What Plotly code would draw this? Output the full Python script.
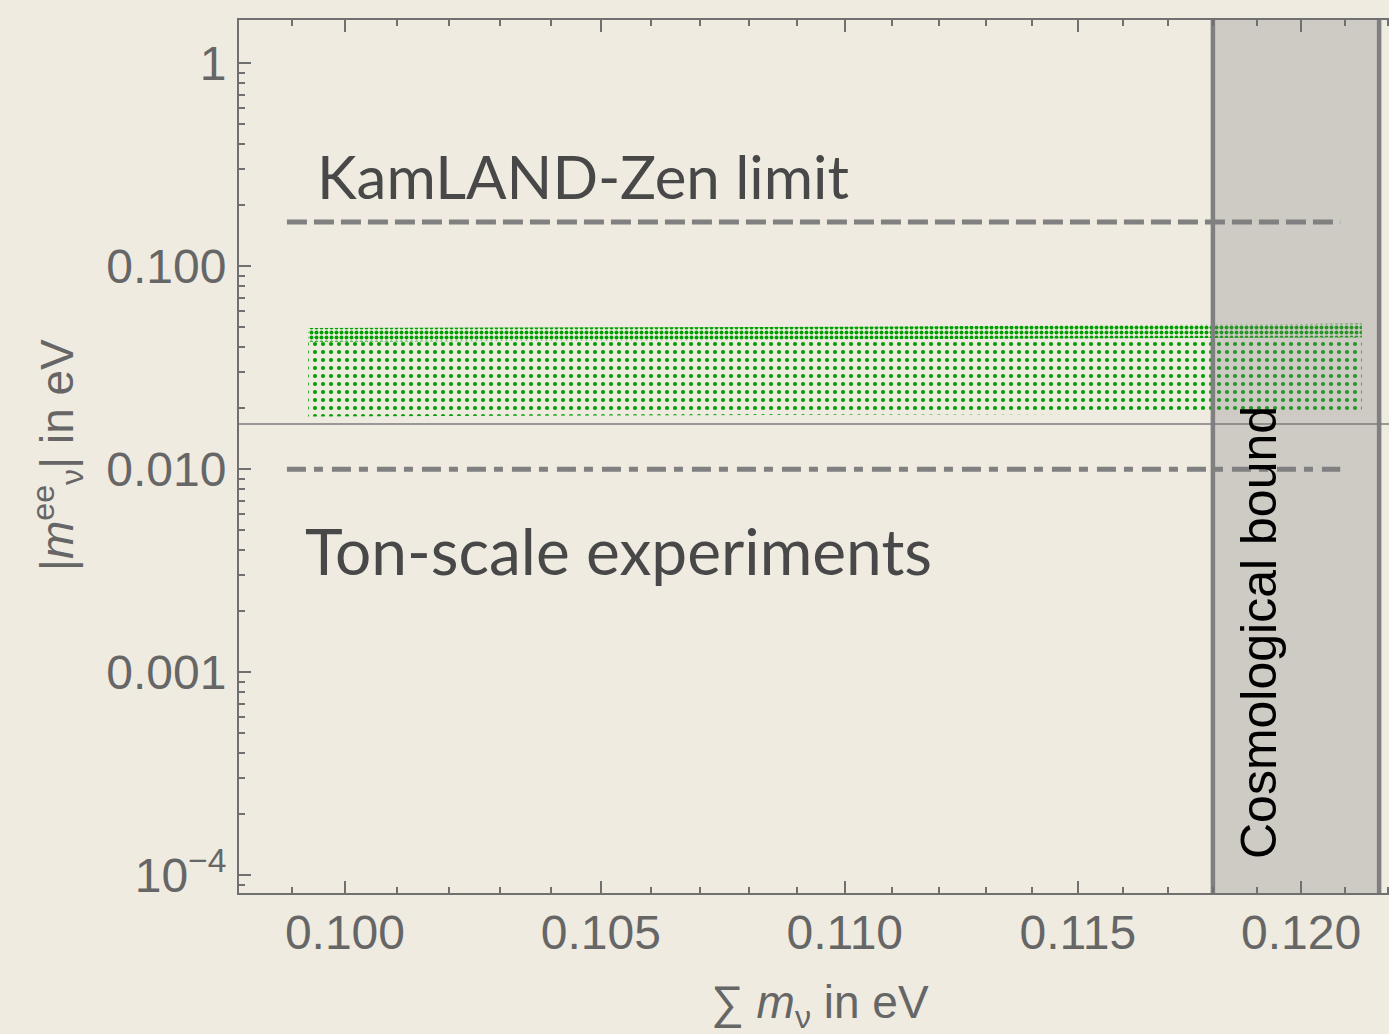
import math
import plotly.graph_objects as go

# ---- data -------------------------------------------------------------
# Sum of neutrino masses (eV) along the scanned region, with the
# upper / lower envelope of |m_ee| (eV) of the allowed points.
sum_m = [0.0993, 0.105, 0.110, 0.115, 0.1214]
mee_upper = [0.0496, 0.0500, 0.0504, 0.0512, 0.0522]
mee_dense = [0.0425, 0.0430, 0.0433, 0.0440, 0.0447]   # lower edge of the dense top layer
mee_lower = [0.0182, 0.0183, 0.0185, 0.0187, 0.0189]

# Experimental sensitivities / limits on |m_ee| (eV)
kamland_limit = 0.165
ton_scale = 0.010
limit_span = [0.0989, 0.1209]        # horizontal extent of the limit lines

# Lower edge of |m_ee| for normal ordering reference
mee_floor = 0.0167

# Cosmological bound band on the sum of masses (eV)
cosmo_band = [0.118, 0.1218]

# Axis ticks
x_ticks = [0.100, 0.105, 0.110, 0.115, 0.120]
x_ticktext = ["0.100", "0.105", "0.110", "0.115", "0.120"]
y_ticks = [1e-4, 1e-3, 1e-2, 1e-1, 1.0]
y_ticktext = ["10<sup>\u22124</sup>", "0.001", "0.010", "0.100", "1"]

x_range = [0.0980, 0.12203]
y_range = [10 ** -4.087, 10 ** 0.213]

# ---- styling ----------------------------------------------------------
BG = "rgb(239,235,225)"
GRAY = "rgb(128,128,128)"
FRAME = "rgb(112,112,112)"
TICKFONT = dict(family="Liberation Sans, Arial, sans-serif", size=48, color="rgb(102,102,102)")
GREEN = "rgb(0,160,0)"

fig = go.Figure()


def band(x, top, bottom, size, solidity):
    xs = list(x) + list(reversed(x))
    ys = list(top) + list(reversed(bottom))
    fig.add_trace(go.Scatter(
        x=xs, y=ys, mode="lines", fill="toself",
        line=dict(width=0, color="rgba(0,0,0,0)"),
        fillcolor="rgba(0,0,0,0)",
        fillpattern=dict(shape=".", fgcolor=GREEN, fgopacity=1,
                         size=size, solidity=solidity),
        hoverinfo="skip", showlegend=False,
    ))


# allowed points: dense top layer and sparser body
band(sum_m, mee_upper, mee_dense, 5, 0.5)
band(sum_m, mee_dense, mee_lower, 8, 0.22)

# KamLAND-Zen limit (dashed) and ton-scale sensitivity (dot-dashed)
fig.add_trace(go.Scatter(
    x=limit_span, y=[kamland_limit] * 2, mode="lines",
    line=dict(color=GRAY, width=5, dash="20px,7px"),
    hoverinfo="skip", showlegend=False))
fig.add_trace(go.Scatter(
    x=limit_span, y=[ton_scale] * 2, mode="lines",
    line=dict(color=GRAY, width=5, dash="19px,8px,9px,9px"),
    hoverinfo="skip", showlegend=False))

# cosmological bound band
fig.add_trace(go.Scatter(
    x=[cosmo_band[0], cosmo_band[1], cosmo_band[1], cosmo_band[0], cosmo_band[0]],
    y=[1e-6, 1e-6, 10, 10, 1e-6], mode="lines", fill="toself",
    fillcolor="rgba(128,128,128,0.3)", line=dict(width=0),
    hoverinfo="skip", showlegend=False))
for xb in cosmo_band:
    fig.add_trace(go.Scatter(
        x=[xb, xb], y=[1e-6, 10], mode="lines",
        line=dict(color=GRAY, width=4.5),
        hoverinfo="skip", showlegend=False))

# thin horizontal reference line
fig.add_trace(go.Scatter(
    x=[0.09, 0.13], y=[mee_floor] * 2, mode="lines",
    line=dict(color="rgb(125,125,125)", width=1.5),
    hoverinfo="skip", showlegend=False))


def minor_decades():
    vals = []
    for e in range(-5, 1):
        for k in range(2, 10):
            vals.append(k * 10 ** e)
    return vals


x_minor = [round(0.098 + 0.001 * i, 3) for i in range(0, 25)]

fig.update_xaxes(
    type="log", range=[math.log10(v) for v in x_range],
    tickmode="array", tickvals=x_ticks, ticktext=x_ticktext,
    ticks="inside", ticklen=12, tickwidth=1.5, tickcolor=FRAME,
    minor=dict(tickmode="array", tickvals=x_minor, ticks="inside",
               ticklen=6, tickwidth=1.5, tickcolor=FRAME, showgrid=False),
    showline=True, linecolor=FRAME, linewidth=2, mirror="ticks",
    showgrid=False, zeroline=False, tickfont=TICKFONT, ticklabelstandoff=-4,
)
fig.update_yaxes(
    type="log", range=[math.log10(v) for v in y_range],
    tickmode="array", tickvals=y_ticks, ticktext=y_ticktext,
    ticks="inside", ticklen=12, tickwidth=1.5, tickcolor=FRAME,
    minor=dict(tickmode="array", tickvals=minor_decades(), ticks="inside",
               ticklen=6, tickwidth=1.5, tickcolor=FRAME, showgrid=False),
    showline=True, linecolor=FRAME, linewidth=2, mirror=False,
    showgrid=False, zeroline=False, tickfont=TICKFONT, ticklabelstandoff=1,
)

TEXTFONT = dict(family="Lato, Open Sans, sans-serif", color="rgb(72,72,72)")
annotations = [
    dict(text="KamLAND-Zen limit", xref="paper", yref="paper",
         x=(315 - 239) / 1150, y=(893 - 176) / 873, xanchor="left", yanchor="middle",
         showarrow=False, font=dict(size=60, **TEXTFONT)),
    dict(text="Ton-scale experiments", xref="paper", yref="paper",
         x=(303 - 239) / 1150, y=(893 - 550) / 873, xanchor="left", yanchor="middle",
         showarrow=False, font=dict(size=64, **TEXTFONT)),
    dict(text="Cosmological bound", xref="paper", yref="paper",
         x=(1259 - 239) / 1150, y=(893 - 633) / 873, xanchor="center", yanchor="middle",
         textangle=-90, showarrow=False,
         font=dict(family="Liberation Sans, Arial, sans-serif", size=50, color="black")),
    dict(text="|<i>m</i><sup>ee</sup><sub>\u03bd</sub>| in eV", xref="paper", yref="paper",
         x=(57 - 239) / 1150, y=(893 - 455) / 873, xanchor="center", yanchor="middle",
         textangle=-90, showarrow=False,
         font=dict(family="Liberation Sans, Arial, sans-serif", size=46, color="rgb(102,102,102)")),
    dict(text="\u2211 <i>m</i><sub>\u03bd</sub> in eV", xref="paper", yref="paper",
         x=(820 - 239) / 1150, y=(893 - 1005) / 873, xanchor="center", yanchor="middle",
         showarrow=False,
         font=dict(family="Liberation Sans, Arial, sans-serif", size=46, color="rgb(102,102,102)")),
]

fig.update_layout(
    width=1389, height=1034,
    margin=dict(l=239, r=0, t=20, b=141, autoexpand=False),
    paper_bgcolor=BG, plot_bgcolor=BG,
    showlegend=False, annotations=annotations,
)

fig.write_html("out.html")
